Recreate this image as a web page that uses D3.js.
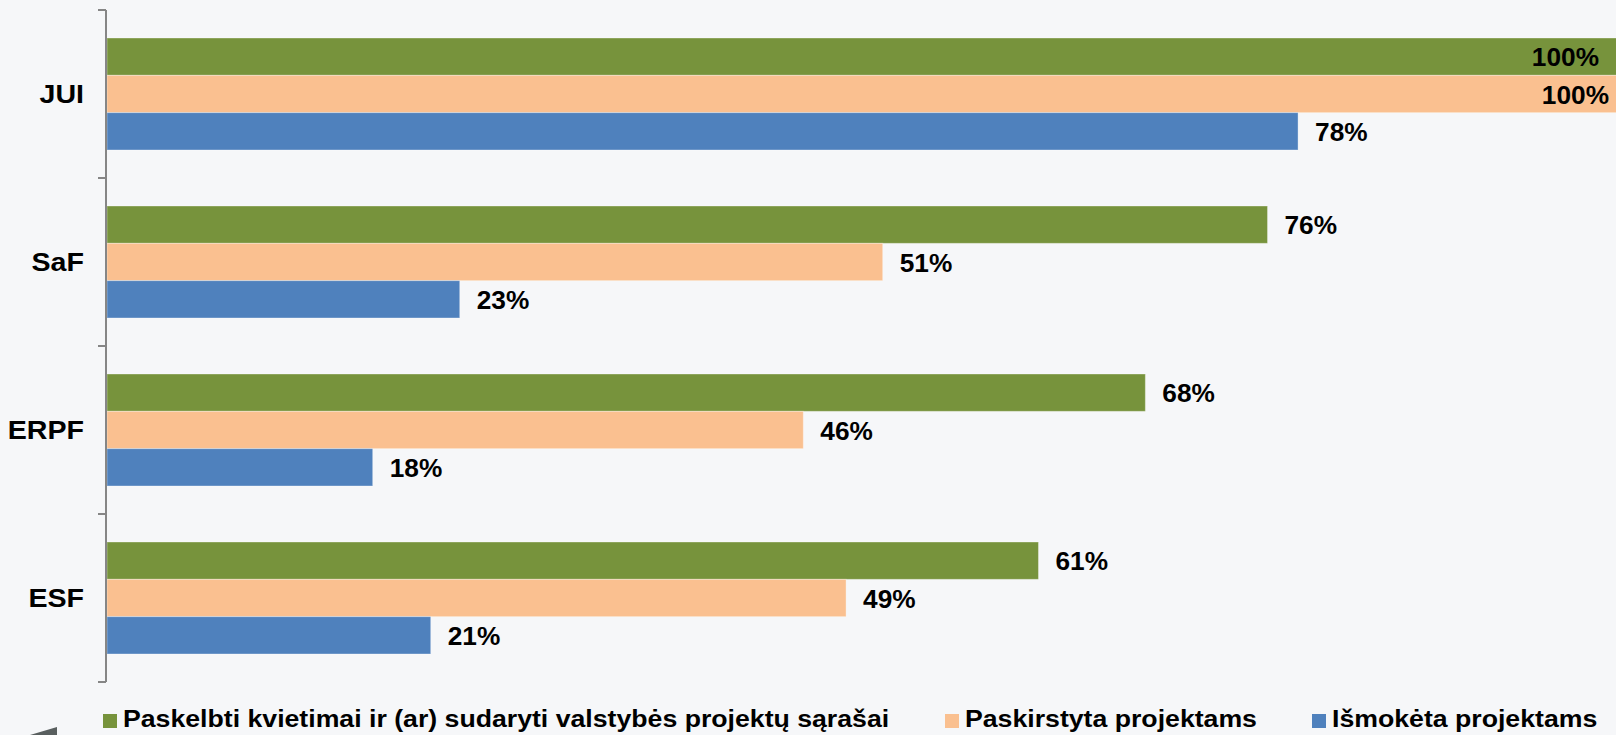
<!DOCTYPE html>
<html>
<head>
<meta charset="utf-8">
<script src="https://cdn.jsdelivr.net/npm/d3@7"></script>
<style>
  html, body { margin: 0; padding: 0; background: #f6f7f9; }
  svg { display: block; font-family: "Liberation Sans", Arial, sans-serif; }
</style>
</head>
<body>
<svg id="chart" width="1616" height="735"></svg>
<script>
const categories = ["JUI", "SaF", "ERPF", "ESF"];
const seriesNames = [
  "Paskelbti kvietimai ir (ar) sudaryti valstybės projektų sąrašai",
  "Paskirstyta projektams",
  "Išmokėta projektams"
];
const seriesColors = ["#77933c", "#fac090", "#4f81bd"];
// bar lengths (estimated, in %)
const announced = [100, 76, 68, 61];
const allocated = [100, 50.8, 45.6, 48.4];
const paid = [78, 23.1, 17.4, 21.2];
// printed value labels
const announcedLabels = ["100%", "76%", "68%", "61%"];
const allocatedLabels = ["100%", "51%", "46%", "49%"];
const paidLabels = ["78%", "23%", "18%", "21%"];
const seriesValues = [announced, allocated, paid];
const seriesLabels = [announcedLabels, allocatedLabels, paidLabels];

const W = 1616, H = 735;
const svg = d3.select("#chart");
svg.append("rect").attr("width", W).attr("height", H).attr("fill", "#f6f7f9");

const axisX = 106;
const y = d3.scaleBand().domain(categories).range([10, 682]).paddingInner(1/3).paddingOuter(1/6);
const ySub = d3.scaleBand().domain(d3.range(seriesNames.length)).range([0, y.bandwidth()]);
const x = d3.scaleLinear().domain([0, 100]).range([axisX + 1, 1634]);

const groups = svg.append("g").selectAll("g").data(categories).join("g")
  .attr("transform", d => `translate(0,${y(d)})`);

seriesNames.forEach((s, si) => {
  groups.append("rect")
    .attr("x", x(0))
    .attr("y", ySub(si))
    .attr("width", (d, ci) => x(seriesValues[si][ci]) - x(0))
    .attr("height", ySub.bandwidth())
    .attr("fill", seriesColors[si])
    .attr("stroke", "rgba(255,255,255,0.35)")
    .attr("stroke-width", 1);
});

const labelSX = 1.05;
seriesNames.forEach((s, si) => {
  groups.append("text")
    .attr("font-size", 25)
    .attr("font-weight", "bold")
    .attr("fill", "#000")
    .each(function(d, ci) {
      const v = seriesValues[si][ci];
      const xe = x(v);
      const ty = ySub(si) + ySub.bandwidth() / 2 + 9.5;
      const t = d3.select(this).text(seriesLabels[si][ci]);
      if (xe + 70 > W) {
        const tx = W - 12 + (si === 1 ? 5 : -5);
        t.attr("text-anchor", "end").attr("transform", `translate(${tx},${ty}) scale(${labelSX},1)`);
      } else {
        t.attr("text-anchor", "start").attr("transform", `translate(${xe + 17},${ty}) scale(${labelSX},1)`);
      }
    });
});

// axis
const axis = d3.axisLeft(y).tickSize(0).tickPadding(21);
const gAxis = svg.append("g").attr("transform", `translate(${axisX},0)`).call(axis);
gAxis.select(".domain").remove();
gAxis.selectAll("text")
  .attr("font-size", 26).attr("font-weight", "bold").attr("fill", "#000")
  .attr("font-family", "Liberation Sans, Arial, sans-serif")
  .attr("x", 0).attr("dy", "0.36em")
  .attr("transform", "translate(-22,0) scale(1.1,1)");

const tickYs = categories.map(c => y(c) - y.step() * y.paddingInner() / 2).concat([682]);
svg.append("line").attr("x1", axisX).attr("x2", axisX).attr("y1", 10).attr("y2", 682)
  .attr("stroke", "#868686").attr("stroke-width", 2);
svg.append("g").selectAll("line").data(tickYs).join("line")
  .attr("x1", axisX - 8).attr("x2", axisX).attr("y1", d => d).attr("y2", d => d)
  .attr("stroke", "#868686").attr("stroke-width", 2);

// legend
const legendX = [103, 945, 1312];
const lg = svg.append("g").selectAll("g").data(seriesNames).join("g")
  .attr("transform", (d, i) => `translate(${legendX[i]},714)`);
lg.append("rect").attr("width", 14).attr("height", 14).attr("fill", (d, i) => seriesColors[i]);
lg.append("text").attr("font-size", 23).attr("font-weight", "bold")
  .attr("transform", "translate(20,13) scale(1.16,1)")
  .attr("fill", "#000").text(d => d);

// decorative corner shape
svg.append("path").attr("d", "M30,735 L57,727 L57,735 Z").attr("fill", "#595f5f");
</script>
</body>
</html>
